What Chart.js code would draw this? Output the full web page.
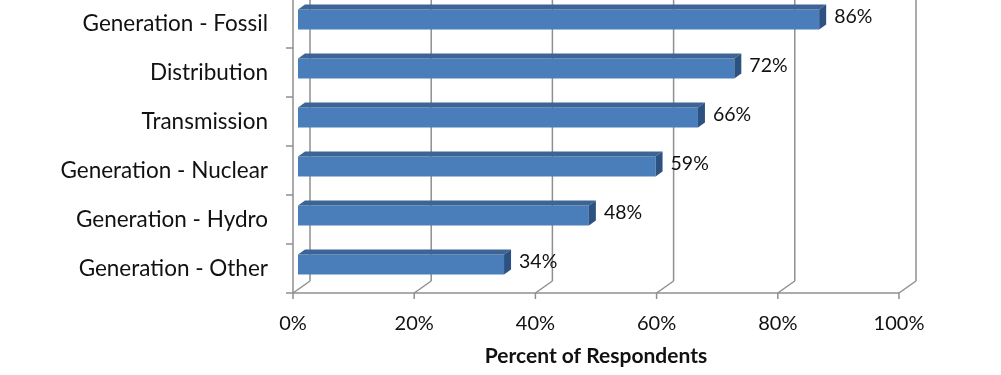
<!DOCTYPE html>
<html>
<head>
<meta charset="utf-8">
<script src="https://cdn.jsdelivr.net/npm/chart.js@4.4.1/dist/chart.umd.min.js"></script>
<style>
  html, body { margin: 0; padding: 0; background: #fff; overflow: hidden; }
  #wrap { position: absolute; left: 0; top: -20px; width: 1001px; height: 395px; }
</style>
</head>
<body>
<div id="wrap"><canvas id="respondentsChart" width="1001" height="395"></canvas></div>
<script>
const categories = [
  "Generation - Fossil",
  "Distribution",
  "Transmission",
  "Generation - Nuclear",
  "Generation - Hydro",
  "Generation - Other",
];
const percentValues = [86, 72, 66, 59, 48, 34];
const xTicks = [0, 20, 40, 60, 80, 100];
const axisTitle = "Percent of Respondents";

// offsets from the bar plane (chart area) to the front edge / back wall of the 3d box
const FRONT = { dx: -5, dy: 4 };
const BACK = { dx: 12, dy: -8 };
const BAR_DEPTH = { dx: 7, dy: -5 };

function line(ctx, x1, y1, x2, y2) {
  ctx.beginPath();
  ctx.moveTo(x1, y1);
  ctx.lineTo(x2, y2);
  ctx.stroke();
}

const excel3d = {
  id: "excel3d",
  beforeDatasetsDraw(chart) {
    const { ctx, chartArea: a, scales } = chart;
    const x = scales.x, y = scales.y;
    const floorFront = a.bottom + FRONT.dy;
    const floorBack = a.bottom + BACK.dy;
    ctx.save();
    ctx.strokeStyle = "#8f8f8f";
    ctx.lineWidth = 1.5;
    xTicks.forEach((v) => {
      const px = x.getPixelForValue(v);
      const fx = px + FRONT.dx, bx = px + BACK.dx;
      line(ctx, bx, 0, bx, floorBack); // back wall gridline
      line(ctx, fx, floorFront, bx, floorBack); // floor
      line(ctx, fx, floorFront, fx, floorFront + 6); // tick mark
    });
    const lx = x.getPixelForValue(0) + FRONT.dx;
    line(ctx, lx, floorFront, x.getPixelForValue(100) + FRONT.dx, floorFront);
    line(ctx, lx, 0, lx, floorFront);
    for (let i = 0; i <= categories.length; i++) {
      const by = y.getPixelForValue(i - 0.5) + FRONT.dy;
      line(ctx, lx - 7, by, lx, by);
    }
    ctx.restore();
  },
  afterDatasetsDraw(chart) {
    const { ctx } = chart;
    const meta = chart.getDatasetMeta(0);
    ctx.save();
    meta.data.forEach((bar, i) => {
      const { x: xr, y: yc, base, height } = bar.getProps(["x", "y", "base", "height"], true);
      const top = yc - height / 2, bottom = yc + height / 2;
      // top face
      ctx.fillStyle = "#3c6595";
      ctx.beginPath();
      ctx.moveTo(base, top);
      ctx.lineTo(base + BAR_DEPTH.dx, top + BAR_DEPTH.dy);
      ctx.lineTo(xr + BAR_DEPTH.dx, top + BAR_DEPTH.dy);
      ctx.lineTo(xr, top);
      ctx.closePath();
      ctx.fill();
      // end face
      ctx.fillStyle = "#2d5281";
      ctx.beginPath();
      ctx.moveTo(xr, top);
      ctx.lineTo(xr + BAR_DEPTH.dx, top + BAR_DEPTH.dy);
      ctx.lineTo(xr + BAR_DEPTH.dx, bottom + BAR_DEPTH.dy);
      ctx.lineTo(xr, bottom);
      ctx.closePath();
      ctx.fill();
      // value label
      ctx.fillStyle = "#111";
      ctx.font = "19.5px Lato";
      ctx.textAlign = "left";
      ctx.textBaseline = "middle";
      ctx.fillText(percentValues[i] + "%", xr + 15, yc - 3);
    });
    // axis title, centred under the front axis
    const x = chart.scales.x;
    const cx = (x.getPixelForValue(0) + x.getPixelForValue(100)) / 2 + FRONT.dx;
    ctx.fillStyle = "#111";
    ctx.font = "bold 21px Lato";
    ctx.textAlign = "center";
    ctx.textBaseline = "middle";
    ctx.fillText(axisTitle, cx, 376);
    ctx.restore();
  },
};

new Chart(document.getElementById("respondentsChart"), {
  type: "bar",
  data: {
    labels: categories,
    datasets: [
      {
        label: axisTitle,
        data: percentValues,
        backgroundColor: "#4a7ebb",
        borderWidth: 0,
        barPercentage: 0.41,
        categoryPercentage: 1,
      },
    ],
  },
  options: {
    indexAxis: "y",
    responsive: false,
    animation: false,
    devicePixelRatio: 1,
    layout: { padding: { left: 0, top: 15, right: 97, bottom: 0 } },
    plugins: {
      legend: { display: false },
      tooltip: { enabled: false },
    },
    scales: {
      x: {
        min: 0,
        max: 100,
        afterFit: (scale) => {
          scale.height = 86;
          scale.paddingLeft = 0;
          scale.paddingRight = 0;
        },
        afterBuildTicks: (scale) => {
          scale.ticks = xTicks.map((v) => ({ value: v }));
        },
        grid: { display: false, drawTicks: false },
        border: { display: false },
        ticks: {
          padding: 23,
          labelOffset: FRONT.dx,
          color: "#111",
          font: { family: "Lato", size: 20 },
          callback: (v) => v + "%",
        },
      },
      y: {
        afterFit: (scale) => {
          scale.width = 298;
          scale.paddingTop = 0;
          scale.paddingBottom = 0;
        },
        grid: { display: false, drawTicks: false },
        border: { display: false },
        ticks: {
          padding: 30,
          labelOffset: FRONT.dy,
          color: "#111",
          font: { family: "Lato", size: 22.5 },
        },
      },
    },
  },
  plugins: [excel3d],
});
</script>
</body>
</html>
